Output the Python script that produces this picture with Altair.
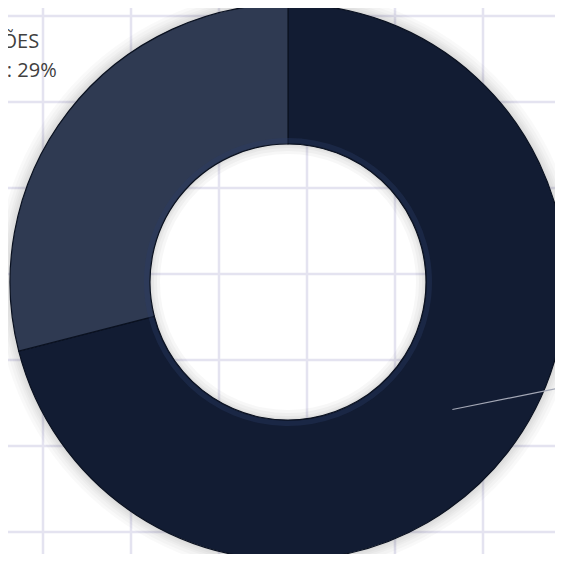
import altair as alt
import pandas as pd
import numpy as np

# ---- data ----
categories = ["RECEITAS\nPRÓPRIAS", "DOAÇÕES\nDIRETAS"]
values = [71, 29]
colors = ["#121c33", "#2f3a52"]
grid_cols = [0, 1, 2, 3, 4, 5]
grid_rows = [0, 1, 2, 3, 4, 5, 6]
visible_label = [False, True]

# ---- layout ----
W, H = 547, 546
CX, CY = 280, 274
R_OUT, R_IN = 278, 138
LABEL_R = 370

total = sum(values)
df = pd.DataFrame({"cat": categories, "value": values, "order": list(range(len(values))),
                   "show": visible_label})
df["pct"] = (df["value"] / total * 100).round().astype(int).astype(str) + "%"
df["label"] = df["cat"] + ": " + df["pct"]

# leader line for the slice whose label sits off to the right
cum = df["value"].cumsum()
mid = (cum - df["value"] / 2) / total * 2 * np.pi
r_mid = (R_OUT + R_IN) / 2
df["lx"] = CX + r_mid * np.sin(mid)
df["ly"] = CY - r_mid * np.cos(mid)
df["lx2"] = df["lx"] + 140
df["ly2"] = df["ly"] - 28
leader_df = df[~df["show"]].copy()

xscale = alt.Scale(domain=[-35 / 88, (W - 35) / 88])
yscale = alt.Scale(domain=[-8 / 86, (H - 8) / 86], reverse=True)

vgrid = alt.Chart(pd.DataFrame({"gx": grid_cols})).mark_rule(
    color="#e4e3f0", strokeWidth=2.5
).encode(x=alt.X("gx:Q", scale=xscale, axis=None))

hgrid = alt.Chart(pd.DataFrame({"gy": grid_rows})).mark_rule(
    color="#e4e3f0", strokeWidth=2.5
).encode(y=alt.Y("gy:Q", scale=yscale, axis=None))

# soft shadow halo around the ring and inside the hole
halo_df = pd.DataFrame({"r": [R_OUT + k for k in (2, 4, 6, 8, 11, 14)]})
halo_df["r2"] = R_OUT - 2
halo = alt.Chart(halo_df).mark_arc(theta=0, theta2=2 * np.pi, color="#000000", opacity=0.025).encode(
    radius=alt.Radius("r:Q", scale=None),
    radius2="r2:Q",
    x=alt.value(CX), y=alt.value(CY),
)
inner_df = pd.DataFrame({"r2": [R_IN - k for k in (2, 4, 7, 10)]})
inner_df["r"] = R_IN + 2
inner_halo = alt.Chart(inner_df).mark_arc(theta=0, theta2=2 * np.pi, color="#000000", opacity=0.03).encode(
    radius=alt.Radius("r:Q", scale=None),
    radius2="r2:Q",
    x=alt.value(CX), y=alt.value(CY),
)

arcs = alt.Chart(df).mark_arc(radius=R_OUT, radius2=R_IN, stroke="#0a1120", strokeWidth=1.2).encode(
    theta=alt.Theta("value:Q", stack=True, scale=alt.Scale(domain=[0, total])),
    color=alt.Color("cat:N", scale=alt.Scale(domain=categories, range=colors), legend=None),
    order=alt.Order("order:Q"),
    x=alt.value(CX), y=alt.value(CY),
)

# subtle bevel highlight along the inner edge
rim = alt.Chart(df).mark_arc(radius=R_IN + 6, radius2=R_IN + 1, color="#2a3c66", opacity=0.35).encode(
    theta=alt.Theta("value:Q", stack=True, scale=alt.Scale(domain=[0, total])),
    order=alt.Order("order:Q"),
    x=alt.value(CX), y=alt.value(CY),
)

leader = alt.Chart(leader_df).mark_rule(color="#a4a8b6", strokeWidth=1.2).encode(
    x=alt.X("lx:Q", scale=alt.Scale(domain=[0, W]), axis=None),
    y=alt.Y("ly:Q", scale=alt.Scale(domain=[0, H], reverse=True), axis=None),
    x2="lx2:Q", y2="ly2:Q",
)

text = alt.Chart(df).transform_window(
    cum="sum(value)", sort=[alt.SortField("order")], frame=[None, 0]
).transform_calculate(
    mid="datum.cum - datum.value / 2"
).transform_filter(
    alt.datum.show
).mark_text(
    radius=LABEL_R, font="Open Sans", fontSize=20, lineBreak="\n", lineHeight=29,
    color="#404040", align="center", baseline="middle", dy=-13, dx=-3,
).encode(
    theta=alt.Theta("mid:Q", scale=alt.Scale(domain=[0, total])),
    text="label:N",
    x=alt.value(CX), y=alt.value(CY),
)

chart = alt.layer(vgrid, hgrid, halo, inner_halo, arcs, rim, leader, text).resolve_scale(
    x="independent", y="independent", radius="independent"
).properties(
    width=W, height=H, padding=0, autosize="none", background="#ffffff"
).configure_view(stroke=None)

chart.save("out.html", embed_options={"renderer": "svg", "actions": False})
